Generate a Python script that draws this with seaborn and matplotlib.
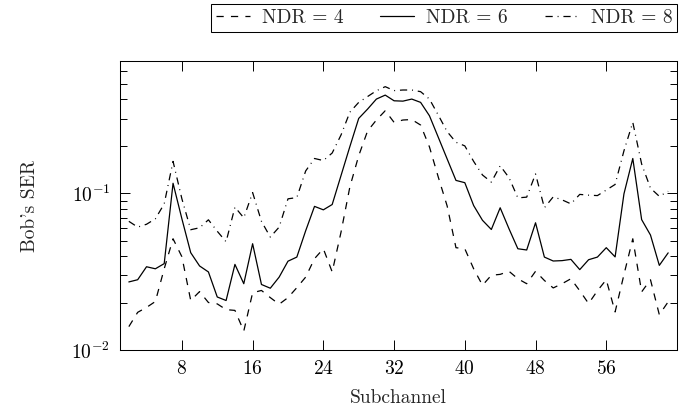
import numpy as np
import pandas as pd
import matplotlib
matplotlib.use("Agg")
import matplotlib.pyplot as plt
from matplotlib.ticker import LogLocator, FixedLocator, NullFormatter
import seaborn as sns

# Subchannel indices and Bob's SER
subchannel = list(range(2, 64))

ser_ndr4 = [0.0141, 0.0174, 0.0187, 0.0204, 0.0330, 0.0513, 0.0394, 0.0207, 0.0236, 0.0201,
            0.0197, 0.0181, 0.0179, 0.0132, 0.0232, 0.0240, 0.0216, 0.0196, 0.0216, 0.0250,
            0.0292, 0.0383, 0.0443, 0.0315, 0.0566, 0.110, 0.174, 0.250, 0.294, 0.337,
            0.284, 0.294, 0.296, 0.273, 0.198, 0.127, 0.0832, 0.0450, 0.0443, 0.0330,
            0.0259, 0.0300, 0.0304, 0.0318, 0.0285, 0.0265, 0.0318, 0.0278, 0.0249, 0.0265,
            0.0285, 0.0239, 0.0198, 0.0239, 0.0281, 0.0175, 0.0303, 0.0513, 0.0235, 0.0281,
            0.0168, 0.0203]

ser_ndr6 = [0.0272, 0.0281, 0.0340, 0.0330, 0.0356, 0.116, 0.0688, 0.0418, 0.0344, 0.0315,
            0.0218, 0.0207, 0.0352, 0.0265, 0.0477, 0.0262, 0.0248, 0.0292, 0.0369, 0.0392,
            0.0577, 0.0826, 0.0785, 0.0849, 0.130, 0.199, 0.301, 0.345, 0.400, 0.424,
            0.390, 0.388, 0.400, 0.381, 0.313, 0.228, 0.166, 0.121, 0.117, 0.0836,
            0.0673, 0.0588, 0.0809, 0.0594, 0.0443, 0.0435, 0.0649, 0.0392, 0.0370, 0.0372,
            0.0379, 0.0326, 0.0377, 0.0392, 0.0450, 0.0393, 0.0993, 0.167, 0.0680, 0.0542,
            0.0347, 0.0417]

ser_ndr8 = [0.0663, 0.0609, 0.0635, 0.0688, 0.0857, 0.160, 0.0923, 0.0586, 0.0603, 0.0678,
            0.0573, 0.0491, 0.0817, 0.0698, 0.1012, 0.0663, 0.0526, 0.0609, 0.0923, 0.0940,
            0.139, 0.167, 0.162, 0.181, 0.236, 0.330, 0.381, 0.415, 0.452, 0.480,
            0.453, 0.457, 0.457, 0.446, 0.400, 0.316, 0.248, 0.212, 0.201, 0.160,
            0.131, 0.118, 0.150, 0.126, 0.0936, 0.0946, 0.133, 0.0809, 0.0950, 0.0909,
            0.0857, 0.0985, 0.0974, 0.0968, 0.105, 0.114, 0.187, 0.284, 0.154, 0.108,
            0.0957, 0.103]

labels = ["NDR = 4", "NDR = 6", "NDR = 8"]
x_ticks = [8, 16, 24, 32, 40, 48, 56]

df = pd.DataFrame({
    "Subchannel": subchannel * 3,
    "SER": ser_ndr4 + ser_ndr6 + ser_ndr8,
    "NDR": [labels[0]] * len(subchannel) + [labels[1]] * len(subchannel) + [labels[2]] * len(subchannel),
})

sns.set_style("ticks")
plt.rcParams["font.family"] = ["cmr10", "DejaVu Serif"]
plt.rcParams["mathtext.fontset"] = "cm"
plt.rcParams["axes.formatter.use_mathtext"] = True
plt.rcParams["font.size"] = 14
plt.rcParams["lines.scale_dashes"] = False

fig = plt.figure(figsize=(6.92, 4.16), dpi=100)
ax = fig.add_axes([120 / 692, 1 - 350 / 416, 557 / 692, 289 / 416])

dash_map = {labels[0]: (5.2, 5.2), labels[1]: "", labels[2]: (5.2, 3.5, 0.7, 3.5)}
sns.lineplot(data=df, x="Subchannel", y="SER", style="NDR", dashes=dash_map,
             color="black", linewidth=0.9, ax=ax, legend=False)

ax.set_yscale("log")
ax.set_xlim(1, 64)
ax.set_ylim(0.01, 0.7)
ax.xaxis.set_major_locator(FixedLocator(x_ticks))
ax.yaxis.set_major_locator(LogLocator(base=10))
ax.yaxis.set_minor_locator(LogLocator(base=10, subs=np.arange(2, 10)))
ax.yaxis.set_minor_formatter(NullFormatter())

ax.tick_params(which="both", direction="in", top=True, right=True, width=0.7,
               colors="black", labelsize=14)
ax.tick_params(which="major", length=7.3, pad=7)
ax.tick_params(which="minor", length=4.9)
for s in ax.spines.values():
    s.set_linewidth(0.75)
    s.set_color("black")

ax.set_xlabel("Subchannel", fontsize=14)
ax.set_ylabel("Bob's SER", fontsize=14)
ax.xaxis.set_label_coords(0.5, -0.135)
ax.yaxis.set_label_coords(-0.145, 0.5)

handles = ax.get_lines()[:3]
leg = fig.legend(handles, labels, loc="upper right", ncol=3,
                 bbox_to_anchor=(677 / 692, 1 - 4 / 416), fontsize=14,
                 frameon=True, fancybox=False, edgecolor="black", framealpha=1,
                 borderpad=0.25, handlelength=1.75, handletextpad=0.6,
                 columnspacing=1.9, borderaxespad=0)
leg.get_frame().set_linewidth(0.75)

fig.savefig("out.png", dpi=100)
